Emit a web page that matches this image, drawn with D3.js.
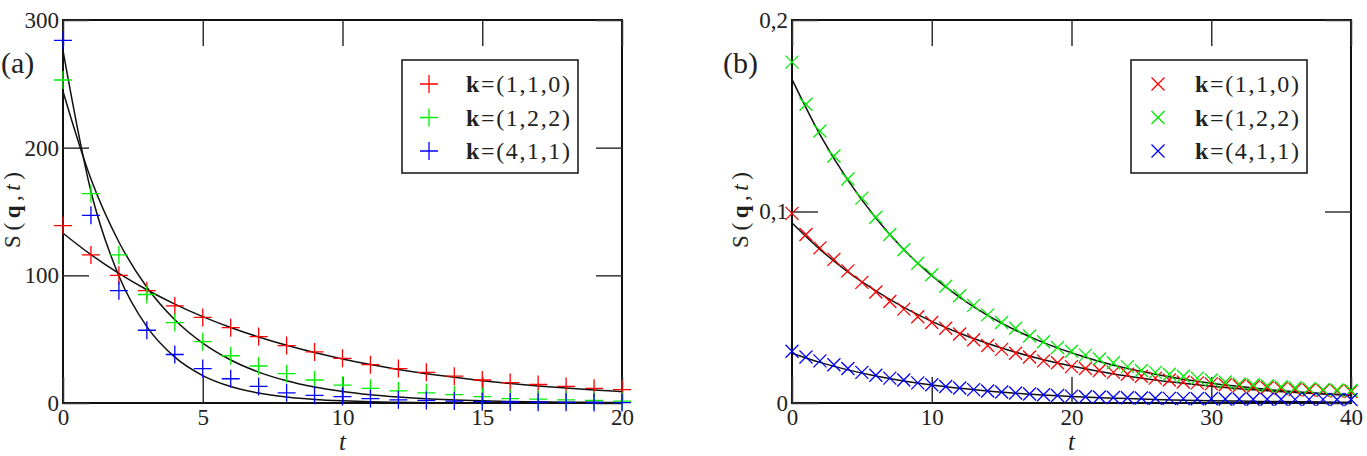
<!DOCTYPE html>
<html>
<head>
<meta charset="utf-8">
<script src="https://cdn.jsdelivr.net/npm/d3@7"></script>
<style>
  body { margin: 0; background: #fff; }
  svg { display: block; }
</style>
</head>
<body>
<script>
const width = 1367;
const height = 456;
const serif = '"Liberation Serif", "Times New Roman", Times, "DejaVu Serif", serif';

// ---- panel (a): S(q,t) vs t, '+' markers
const tA = d3.range(0, 21);
const redA   = [139, 116, 100, 88, 76, 67, 59, 52, 45, 40, 35, 30, 27, 24, 21, 18, 16, 14.5, 13, 11.5, 10.5];
const greenA = [253, 164, 116, 85, 63, 48, 37, 29, 23, 18, 14, 11.5, 9.5, 8, 6.5, 5, 3.5, 3, 2.5, 2, 1.5];
const blueA  = [284, 147, 88, 57, 38, 27, 19, 13, 8, 6, 5, 3.5, 2.5, 2, 1.5, 1, 0.8, 0.6, 0.5, 0.4, 0.3];
const fitTA = d3.range(0, 21);
const fitRedA   = [133, 116.2, 101.5, 88.7, 77.5, 67.7, 59.2, 51.7, 45.2, 39.5, 34.5, 30.1, 26.3, 23.0, 20.1, 17.5, 15.3, 13.4, 11.7, 10.2, 8.9];
const fitGreenA = [244, 175.4, 126.1, 90.7, 65.2, 46.9, 33.7, 24.2, 17.4, 12.5, 9.0, 6.5, 4.7, 3.3, 2.4, 1.7, 1.2, 0.9, 0.6, 0.5, 0.3];
const fitBlueA  = [276, 165.7, 99.5, 59.8, 35.9, 21.5, 12.9, 7.8, 4.7, 2.8, 1.7, 1.0, 0.6, 0.4, 0.2, 0.1, 0.1, 0.05, 0.03, 0.02, 0.01];
const xTicksA = [0, 5, 10, 15, 20];
const yTicksA = [0, 100, 200, 300];

// ---- panel (b): S(q,t) vs t, 'x' markers
const tB = d3.range(0, 41);
const redB = [0.099, 0.088, 0.081, 0.075, 0.069, 0.063, 0.058, 0.053, 0.049, 0.045, 0.042, 0.039, 0.036, 0.033,
  0.030, 0.028, 0.026, 0.024, 0.022, 0.021, 0.019, 0.018, 0.017, 0.016, 0.015, 0.014, 0.013, 0.012, 0.011,
  0.0105, 0.010, 0.0095, 0.009, 0.0085, 0.008, 0.0075, 0.007, 0.0068, 0.0065, 0.0062, 0.006];
const greenB = [0.178, 0.156, 0.142, 0.129, 0.117, 0.107, 0.097, 0.088, 0.080, 0.073, 0.067, 0.061, 0.056, 0.051,
  0.046, 0.042, 0.039, 0.035, 0.032, 0.029, 0.027, 0.025, 0.023, 0.021, 0.019, 0.017, 0.016, 0.015, 0.014,
  0.013, 0.012, 0.011, 0.010, 0.0095, 0.009, 0.0085, 0.008, 0.0075, 0.007, 0.0068, 0.0065];
const blueB = [0.027, 0.024, 0.022, 0.020, 0.018, 0.016, 0.0145, 0.013, 0.012, 0.0105, 0.0095, 0.0086, 0.0078, 0.007,
  0.0063, 0.0057, 0.0052, 0.0047, 0.0043, 0.0039, 0.0036, 0.0033, 0.0031, 0.0029, 0.0027, 0.0026, 0.0025, 0.0024,
  0.0023, 0.0022, 0.0022, 0.0021, 0.0021, 0.002, 0.002, 0.002, 0.0019, 0.0019, 0.0019, 0.0018, 0.0018];
const fitTB = d3.range(0, 41, 2);
const fitRedB   = [0.094, 0.0802, 0.0685, 0.0585, 0.0499, 0.0426, 0.0364, 0.0311, 0.0265, 0.0226, 0.0193, 0.0165, 0.0141, 0.0120, 0.0103, 0.0088, 0.0075, 0.0064, 0.0055, 0.0047, 0.0040];
const fitGreenB = [0.169, 0.1402, 0.1164, 0.0966, 0.0801, 0.0665, 0.0552, 0.0458, 0.0380, 0.0315, 0.0262, 0.0217, 0.0180, 0.0150, 0.0124, 0.0103, 0.0086, 0.0071, 0.0059, 0.0049, 0.0041];
const fitBlueB  = [0.026, 0.0212, 0.0173, 0.0141, 0.0115, 0.0094, 0.0077, 0.0063, 0.0051, 0.0042, 0.0034, 0.0028, 0.0023, 0.0018, 0.0015, 0.0012, 0.0010, 0.0008, 0.0007, 0.0005, 0.0004];
const xTicksB = [0, 10, 20, 30, 40];
const yTicksB = [0, 0.1, 0.2];

const labels = ['(1,1,0)', '(1,2,2)', '(4,1,1)'];
const colors = ['#ff0000', '#00ee00', '#0000ff'];

const svg = d3.select('body').append('svg')
    .attr('width', width)
    .attr('height', height)
    .attr('font-family', serif);

function drawPanel(p) {
    const x = d3.scaleLinear().domain(p.xDomain).range([p.left, p.right]);
    const y = d3.scaleLinear().domain(p.yDomain).range([p.bottom, p.top]);
    const g = svg.append('g');
    const tick = 26;

    // frame
    g.append('rect')
        .attr('x', p.left).attr('y', p.top)
        .attr('width', p.right - p.left).attr('height', p.bottom - p.top)
        .attr('fill', 'none').attr('stroke', '#111').attr('stroke-width', 2);

    const styleAxis = sel => {
        sel.attr('font-family', serif).attr('font-size', 23);
        sel.select('.domain').remove();
        sel.selectAll('.tick line').attr('stroke', '#333').attr('stroke-width', 1.5);
        sel.selectAll('.tick text').attr('fill', '#222');
    };

    g.append('g').attr('transform', `translate(0,${p.bottom})`)
        .call(d3.axisBottom(x).tickValues(p.xTicks).tickSize(-tick).tickPadding(6).tickFormat(d3.format('d')))
        .call(styleAxis);
    g.append('g').attr('transform', `translate(0,${p.top})`)
        .call(d3.axisTop(x).tickValues(p.xTicks).tickSize(-tick).tickFormat(''))
        .call(styleAxis);
    g.append('g').attr('transform', `translate(${p.left},0)`)
        .call(d3.axisLeft(y).tickValues(p.yTicks).tickSize(-tick).tickPadding(4).tickFormat(p.yFormat))
        .call(styleAxis);
    g.append('g').attr('transform', `translate(${p.right},0)`)
        .call(d3.axisRight(y).tickValues(p.yTicks).tickSize(-tick).tickFormat(''))
        .call(styleAxis);

    // fitted curves
    const line = d3.line()
        .x(d => x(d[0]))
        .y(d => y(d[1]))
        .curve(d3.curveMonotoneX);
    p.fits.forEach(f => {
        g.append('path')
            .datum(p.fitT.map((t, i) => [t, f[i]]))
            .attr('d', line)
            .attr('fill', 'none')
            .attr('stroke', '#111')
            .attr('stroke-width', 1.5);
    });

    // markers
    const s = p.markerSize;
    const markerPath = p.marker === 'plus'
        ? `M${-s},0H${s}M0,${-s}V${s}`
        : `M${-s},${-s}L${s},${s}M${-s},${s}L${s},${-s}`;
    p.series.forEach((vals, k) => {
        g.append('g')
            .selectAll('path')
            .data(vals)
            .enter().append('path')
            .attr('transform', (d, i) => `translate(${x(p.t[i])},${y(d)})`)
            .attr('d', markerPath)
            .attr('stroke', colors[k])
            .attr('stroke-width', 1.3)
            .attr('fill', 'none');
    });

    // axis titles
    g.append('text')
        .attr('x', (p.left + p.right) / 2)
        .attr('y', 450)
        .attr('text-anchor', 'middle')
        .attr('font-size', 25)
        .attr('font-style', 'italic')
        .attr('fill', '#222')
        .text('t');

    const yl = g.append('text')
        .attr('transform', `translate(${p.yLabelX},210) rotate(-90)`)
        .attr('text-anchor', 'middle')
        .attr('font-size', 23)
        .attr('fill', '#222')
        .attr('textLength', 76)
        .attr('lengthAdjust', 'spacing');
    yl.append('tspan').text('S(');
    yl.append('tspan').attr('font-weight', 'bold').text('q');
    yl.append('tspan').text(',');
    yl.append('tspan').attr('font-style', 'italic').text('t');
    yl.append('tspan').text(')');

    // panel letter
    g.append('text')
        .attr('x', p.letterX)
        .attr('y', 73)
        .attr('font-size', 30)
        .attr('fill', '#222')
        .text(p.letter);

    // legend
    const lg = g.append('g');
    lg.append('rect')
        .attr('x', p.legendX).attr('y', 60)
        .attr('width', 176).attr('height', 113)
        .attr('fill', '#fff').attr('stroke', '#111').attr('stroke-width', 1.5);
    const ms = p.legendMarkerSize;
    const legendPath = p.marker === 'plus'
        ? `M${-ms},0H${ms}M0,${-ms}V${ms}`
        : `M${-ms},${-ms}L${ms},${ms}M${-ms},${ms}L${ms},${-ms}`;
    labels.forEach((lab, k) => {
        const cy = 84 + k * 33.5;
        lg.append('path')
            .attr('transform', `translate(${p.legendX + 27},${cy})`)
            .attr('d', legendPath)
            .attr('stroke', colors[k]).attr('stroke-width', 1.3).attr('fill', 'none');
        const tx = lg.append('text')
            .attr('x', p.legendX + 64)
            .attr('y', cy + 8)
            .attr('font-size', 24)
            .attr('fill', '#222')
            .attr('textLength', 104)
            .attr('lengthAdjust', 'spacing');
        tx.append('tspan').attr('font-weight', 'bold').text('k');
        tx.append('tspan').text('=' + lab);
    });
}

drawPanel({
    left: 63, right: 622, top: 20, bottom: 403,
    xDomain: [0, 20], yDomain: [0, 300],
    xTicks: xTicksA, yTicks: yTicksA,
    yFormat: d3.format('d'),
    t: tA, series: [redA, greenA, blueA],
    fitT: fitTA, fits: [fitRedA, fitGreenA, fitBlueA],
    marker: 'plus', markerSize: 9, legendMarkerSize: 9,
    yLabelX: 20, letter: '(a)', letterX: 1,
    legendX: 402
});

drawPanel({
    left: 792, right: 1351, top: 20, bottom: 403,
    xDomain: [0, 40], yDomain: [0, 0.2],
    xTicks: xTicksB, yTicks: yTicksB,
    yFormat: d => d === 0 ? '0' : d3.format('.1f')(d).replace('.', ','),
    t: tB, series: [redB, greenB, blueB],
    fitT: fitTB, fits: [fitRedB, fitGreenB, fitBlueB],
    marker: 'cross', markerSize: 6.5, legendMarkerSize: 6.5,
    yLabelX: 748, letter: '(b)', letterX: 723,
    legendX: 1131
});
</script>
</body>
</html>
